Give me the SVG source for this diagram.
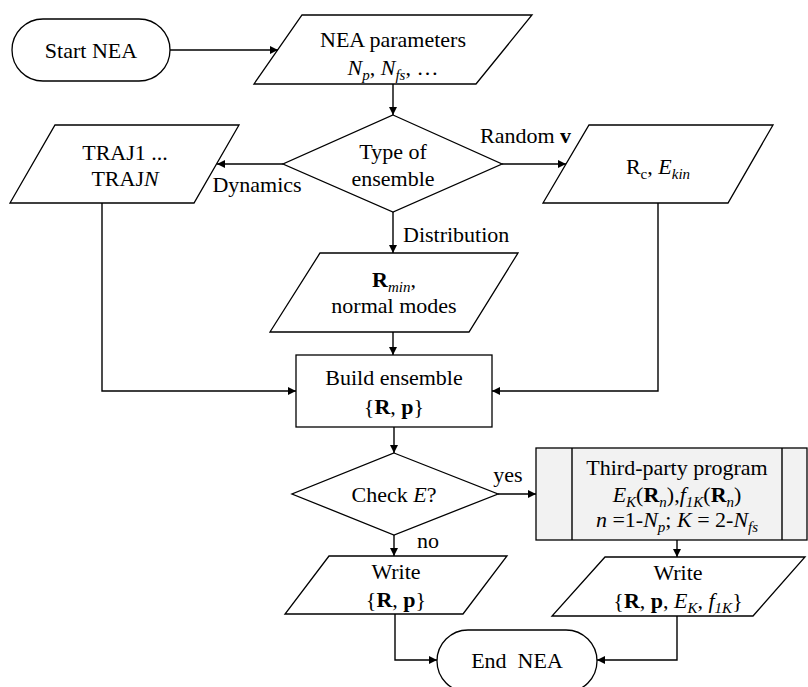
<svg xmlns="http://www.w3.org/2000/svg" width="808" height="687" viewBox="0 0 808 687">
<defs>
<marker id="arr" viewBox="0 0 10 10" refX="10" refY="5" markerWidth="9" markerHeight="8" markerUnits="userSpaceOnUse" orient="auto">
<path d="M0,0 L10,5 L0,10 z" fill="#000"/>
</marker>
</defs>
<style>
.s{fill:#fff;stroke:#000;stroke-width:1.3}
.g{fill:#f2f2f2;stroke:#000;stroke-width:1.3}
.c{fill:none;stroke:#000;stroke-width:1.4;marker-end:url(#arr)}
.cn{fill:none;stroke:#000;stroke-width:1.4}
text{font-size:22px;fill:#000}
.m{text-anchor:middle}
.i{font-style:italic}
.b{font-weight:bold}
.sub{font-size:15px}
</style>
<g font-family="'Liberation Serif', 'DejaVu Serif', serif">
<g id="start">
<rect class="s" x="12" y="19" width="158" height="62" rx="31"/>
<text class="m" x="91" y="58">Start NEA</text>
</g>
<g id="params">
<polygon class="s" points="302,15 532,15 476,84 254,84"/>
<text class="m" x="393" y="47">NEA parameters</text>
<text class="m" x="393" y="75"><tspan class="i">N</tspan><tspan class="i sub" dy="5">p</tspan><tspan dy="-5">, </tspan><tspan class="i">N</tspan><tspan class="i sub" dy="5">fs</tspan><tspan dy="-5">, …</tspan></text>
</g>
<g id="type">
<polygon class="s" points="393,115 502,164 393,212 283,164"/>
<text class="m" x="393" y="159">Type of</text>
<text class="m" x="393" y="186">ensemble</text>
</g>
<g id="traj">
<polygon class="s" points="55,125 239,125 194,203 10,203"/>
<text class="m" x="125" y="160">TRAJ1 ...</text>
<text class="m" x="125" y="186">TRAJ<tspan class="i">N</tspan></text>
</g>
<g id="rc">
<polygon class="s" points="589,125 773,125 728,203 543,203"/>
<text class="m" x="658" y="174">R<tspan class="sub" dy="5">c</tspan><tspan dy="-5">, </tspan><tspan class="i">E</tspan><tspan class="i sub" dy="5">kin</tspan></text>
</g>
<g id="rmin">
<polygon class="s" points="320,253 518,253 469,332 270,332"/>
<text class="m" x="394" y="287"><tspan class="b">R</tspan><tspan class="i sub" dy="5">min</tspan><tspan dy="-5">,</tspan></text>
<text class="m" x="394" y="313">normal modes</text>
</g>
<g id="build">
<rect class="s" x="296" y="355" width="196" height="72"/>
<text class="m" x="394" y="385">Build ensemble</text>
<text class="m" x="394" y="414">{<tspan class="b">R</tspan>, <tspan class="b">p</tspan>}</text>
</g>
<g id="check">
<polygon class="s" points="394,453 498,494 394,535 292,494"/>
<text class="m" x="394" y="502">Check <tspan class="i">E</tspan>?</text>
</g>
<g id="third">
<rect class="g" x="536" y="448" width="271" height="92"/>
<line class="cn" x1="572" y1="448" x2="572" y2="540"/>
<line class="cn" x1="782" y1="448" x2="782" y2="540"/>
<text class="m" x="677" y="475">Third-party program</text>
<text class="m" x="677" y="502"><tspan class="i">E</tspan><tspan class="i sub" dy="5">K</tspan><tspan dy="-5">(</tspan><tspan class="b">R</tspan><tspan class="i sub" dy="5">n</tspan><tspan dy="-5">),</tspan><tspan class="i">f</tspan><tspan class="i sub" dy="5">1K</tspan><tspan dy="-5">(</tspan><tspan class="b">R</tspan><tspan class="i sub" dy="5">n</tspan><tspan dy="-5">)</tspan></text>
<text class="m" x="677" y="527"><tspan class="i">n</tspan> =1-<tspan class="i">N</tspan><tspan class="i sub" dy="5">p</tspan><tspan dy="-5">; </tspan><tspan class="i">K</tspan> = 2-<tspan class="i">N</tspan><tspan class="i sub" dy="5">fs</tspan></text>
</g>
<g id="write1">
<polygon class="s" points="329,556 507,556 463,614 285,614"/>
<text class="m" x="396" y="579">Write</text>
<text class="m" x="396" y="607">{<tspan class="b">R</tspan>, <tspan class="b">p</tspan>}</text>
</g>
<g id="write2">
<polygon class="s" points="605,557 805,557 753,616 552,616"/>
<text class="m" x="678" y="580">Write</text>
<text class="m" x="678" y="608">{<tspan class="b">R</tspan>, <tspan class="b">p</tspan>, <tspan class="i">E</tspan><tspan class="i sub" dy="5">K</tspan><tspan dy="-5">, </tspan><tspan class="i">f</tspan><tspan class="i sub" dy="5">1K</tspan><tspan dy="-5">}</tspan></text>
</g>
<g id="end">
<rect class="s" x="437" y="630" width="160" height="62" rx="31"/>
<text class="m" x="517" y="668" xml:space="preserve">End  NEA</text>
</g>
<g id="connectors">
<path class="c" d="M170,50 H278"/>
<path class="c" d="M393,84 V115"/>
<path class="c" d="M283,164 H217"/>
<path class="c" d="M502,164 H566"/>
<path class="c" d="M393,212 V253"/>
<path class="c" d="M393,332 V355"/>
<path class="c" d="M102,203 V391 H296"/>
<path class="c" d="M658,203 V391 H492"/>
<path class="c" d="M394,427 V453"/>
<path class="c" d="M498,494 H536"/>
<path class="c" d="M394,535 V556"/>
<path class="c" d="M677,540 V557"/>
<path class="c" d="M395,614 V660 H437"/>
<path class="c" d="M677,616 V660 H597"/>
<text class="m" x="257" y="192">Dynamics</text>
<text x="480" y="143">Random <tspan class="b">v</tspan></text>
<text x="403" y="242">Distribution</text>
<text class="m" x="508" y="482">yes</text>
<text class="m" x="428" y="548">no</text>
</g>
</g>
</svg>
